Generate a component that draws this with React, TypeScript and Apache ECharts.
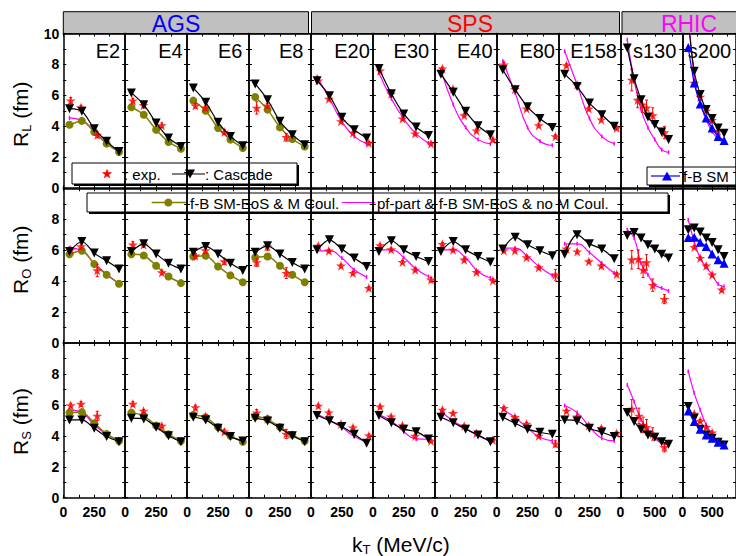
import { useEffect, useRef } from 'react';
import * as echarts from 'echarts';

const FONT = '"Liberation Sans", Arial, Helvetica, sans-serif';

// ---------- categories / labels ----------
const panelNames = ['E2', 'E4', 'E6', 'E8', 'E20', 'E30', 'E40', 'E80', 'E158', 's130', 's200'];
const regionTitles = ['AGS', 'SPS', 'RHIC'];
const regionColors = ['#0000ff', '#ff0000', '#ff00ff'];
const rowSubscripts = ['L', 'O', 'S'];
const kTModel = [50, 150, 250, 350, 450];
const kTRhic = [100, 200, 300, 400, 500, 600, 700];
const xLabelsModel = [0, 250];
const xLabelsRhic = [0, 500];
const yLabelValues = [0, 2, 4, 6, 8, 10];
const legendExp = ': exp.';
const legendCascade = ': Cascade';
const legendOlive = 'f-B SM-EoS & M Coul.';
const legendMagenta = 'pf-part & f-B SM-EoS & no M Coul.';
const legendBlue = 'f-B SM';

// ---------- R_L ----------
const cascadeRL = [
  [5.14, 4.97, 3.85, 3.03, 2.38],
  [6.16, 5.40, 4.22, 3.25, 2.70],
  [6.48, 5.55, 4.26, 3.35, 2.75],
  [6.74, 5.72, 4.32, 3.46, 2.81],
  [6.95, 5.98, 4.58, 3.78, 3.25],
  [7.73, 6.10, 4.80, 3.96, 3.40],
  [7.37, 6.20, 4.97, 4.04, 3.46],
  [7.66, 6.37, 5.26, 4.51, 3.93],
  [7.37, 6.57, 5.50, 4.75, 4.00],
  [9.07, 7.08, 5.72, 4.60, 4.11, 3.64, 3.14],
  [10.8, 7.56, 6.05, 5.08, 4.51, 3.89, 3.56],
];
const oliveRL = [
  [4.10, 4.35, 3.63, 2.88, 2.34],
  [5.23, 4.75, 3.78, 2.99, 2.55],
  [5.66, 5.01, 3.89, 3.14, 2.60],
  [5.90, 5.08, 3.93, 3.18, 2.70],
];
const magentaRL = [
  [4.54, 4.37, 3.70, 2.90, 2.38],
  null, null, null,
  [7.20, 5.79, 4.32, 3.35, 2.88],
  [7.45, 5.79, 4.48, 3.51, 2.92],
  [7.66, 5.40, 3.93, 3.14, 2.86],
  [8.20, 6.16, 3.93, 3.04, 2.77],
  [8.85, 6.70, 4.51, 3.35, 2.88],
  [9.60, 7.00, 5.08, 3.93, 3.14, 2.49, 2.32],
  [11.8, 7.20, 5.50, 4.45, 3.65, 3.20, 2.95],
];
const blueRL = [9.10, 6.80, 5.45, 4.54, 3.89, 3.35, 3.09];
const expRL = [
  [[60, 5.66, 0.2], [143, 5.21, 0.15], [274, 3.45, 0.2]],
  [[62, 5.66, 0.15], [148, 5.36, 0.15], [296, 4.06, 0.15]],
  [[67, 5.34, 0.15], [148, 5.20, 0.1], [301, 3.63, 0.15]],
  [[62, 5.19, 0.4], [148, 5.34, 0.15], [301, 3.29, 0.25]],
  [[60, 6.95, 0.1], [145, 5.77, 0.1], [243, 4.32, 0.1], [340, 3.58, 0.1], [468, 2.92, 0.1]],
  [[59, 7.60, 0.1], [148, 6.10, 0.1], [240, 4.50, 0.1], [342, 3.53, 0.1], [470, 2.88, 0.1]],
  [[62, 7.73, 0.1], [148, 6.42, 0.1], [238, 4.71, 0.1], [337, 3.72, 0.1], [470, 3.14, 0.1]],
  [[59, 7.99, 0.15], [148, 6.40, 0.1], [242, 5.14, 0.1], [340, 4.06, 0.1], [475, 3.35, 0.1]],
  [[64, 7.94, 0.1], [151, 6.69, 0.1], [245, 5.14, 0.1], [346, 4.43, 0.1], [470, 3.89, 0.1]],
  [[165, 7.00, 0.7], [250, 5.70, 0.5], [320, 5.40, 0.5], [380, 5.20, 0.5], [470, 4.70, 0.5], [640, 3.60, 0.4]],
  [[200, 6.80, 0.2], [300, 5.90, 0.2], [400, 5.00, 0.2], [500, 4.40, 0.2], [600, 3.70, 0.2]],
];

// ---------- R_O ----------
const cascadeRO = [
  [5.91, 6.56, 5.81, 5.31, 4.78],
  [5.91, 6.41, 5.76, 5.16, 4.78],
  [5.87, 6.24, 5.76, 5.16, 4.69],
  [5.87, 6.28, 5.76, 5.21, 4.78],
  [6.02, 6.67, 6.07, 5.49, 4.95],
  [5.91, 6.61, 6.02, 5.59, 5.27],
  [5.91, 6.56, 6.02, 5.59, 5.23],
  [6.07, 6.84, 6.35, 5.96, 5.64],
  [5.74, 7.00, 6.41, 6.07, 5.44],
  [6.95, 7.14, 6.78, 6.35, 6.07, 5.74, 5.49],
  [7.32, 7.43, 7.17, 6.78, 6.50, 6.02, 5.59],
];
const oliveRO = [
  [5.74, 5.96, 5.10, 4.41, 3.83],
  [5.74, 5.66, 4.99, 4.30, 3.87],
  [5.59, 5.64, 4.95, 4.37, 3.93],
  [5.53, 5.59, 4.99, 4.41, 3.93],
];
const magentaRO = [
  [6.15, 5.95, 5.15, 4.45, 3.85],
  null, null, null,
  [5.96, 5.96, 5.49, 4.73, 4.26],
  [6.02, 6.02, 5.53, 4.78, 4.30],
  [6.02, 6.02, 5.49, 4.62, 4.20],
  [6.13, 6.13, 5.59, 4.90, 4.36],
  [6.41, 6.41, 5.85, 5.16, 4.52],
  [7.32, 6.78, 5.16, 4.41, 3.76, 3.55, 3.37],
  [7.96, 6.56, 5.49, 4.90, 4.41, 3.81, 3.65],
];
const blueRO = [6.82, 6.84, 6.52, 6.24, 5.76, 5.38, 5.16];
const expRO = [
  [[60, 6.02, 0.15], [143, 6.24, 0.2], [274, 4.69, 0.4]],
  [[62, 6.35, 0.2], [148, 6.35, 0.15], [296, 4.56, 0.15]],
  [[67, 5.64, 0.15], [148, 5.98, 0.15], [301, 5.27, 0.2]],
  [[62, 5.21, 0.25], [148, 6.24, 0.25], [301, 4.52, 0.35]],
  [[60, 6.28, 0.1], [145, 5.96, 0.1], [243, 4.99, 0.1], [340, 4.52, 0.1], [468, 3.55, 0.1]],
  [[59, 6.30, 0.1], [148, 6.05, 0.1], [240, 5.23, 0.1], [342, 4.73, 0.1], [470, 4.09, 0.15]],
  [[62, 6.39, 0.1], [148, 6.02, 0.1], [238, 5.38, 0.1], [337, 4.58, 0.1], [470, 4.04, 0.1]],
  [[59, 5.98, 0.1], [148, 5.98, 0.1], [242, 5.53, 0.1], [340, 4.88, 0.1], [475, 4.41, 0.35]],
  [[64, 6.09, 0.1], [151, 5.91, 0.1], [245, 5.27, 0.1], [346, 4.99, 0.1], [470, 4.45, 0.1]],
  [[165, 5.38, 0.6], [260, 5.42, 0.6], [330, 4.73, 0.5], [380, 5.21, 0.5], [470, 3.74, 0.4], [640, 2.84, 0.3]],
  [[200, 6.20, 0.1], [300, 5.49, 0.1], [400, 4.99, 0.1], [500, 4.41, 0.1], [660, 3.44, 0.1]],
];

// ---------- R_S ----------
const cascadeRS = [
  [5.03, 5.03, 4.49, 3.95, 3.62],
  [5.14, 5.09, 4.56, 4.01, 3.62],
  [5.20, 5.03, 4.49, 3.95, 3.67],
  [5.14, 4.96, 4.49, 4.00, 3.62],
  [5.31, 4.98, 4.60, 4.10, 3.52],
  [5.31, 4.85, 4.43, 4.27, 3.80],
  [5.20, 4.85, 4.43, 4.06, 3.62],
  [5.20, 4.81, 4.43, 4.23, 4.10],
  [5.03, 4.96, 4.49, 4.23, 3.95],
  [5.50, 4.92, 4.43, 4.06, 3.91, 3.62, 3.46],
  [5.89, 5.14, 4.43, 4.06, 3.84, 3.58, 3.41],
];
const oliveRS = [
  [5.50, 5.53, 4.81, 4.12, 3.67],
  [5.50, 5.29, 4.66, 4.10, 3.67],
  [5.35, 5.20, 4.56, 4.00, 3.62],
  [5.25, 5.08, 4.56, 4.06, 3.67],
];
const magentaRS = [
  [5.68, 5.50, 4.71, 4.10, 3.67],
  null, null, null,
  [5.42, 4.98, 4.55, 3.95, 3.62],
  [5.35, 4.96, 4.27, 3.80, 3.78],
  [5.57, 4.96, 4.49, 4.01, 3.67],
  [5.68, 5.18, 4.49, 3.91, 3.67],
  [5.96, 5.50, 4.60, 3.84, 3.67],
  [7.29, 6.21, 5.03, 4.38, 3.84, 3.52, 3.41],
  [8.16, 6.76, 5.68, 4.71, 4.10, 3.62, 3.41],
];
const blueRS = [5.61, 4.92, 4.43, 4.06, 3.84, 3.58, 3.41];
const expRS = [
  [[60, 5.96, 0.15], [143, 6.06, 0.15], [274, 5.29, 0.3]],
  [[62, 6.06, 0.15], [148, 5.61, 0.1], [296, 4.64, 0.1]],
  [[67, 5.83, 0.15], [148, 5.25, 0.1], [301, 4.27, 0.15]],
  [[62, 5.50, 0.2], [148, 5.10, 0.1], [301, 4.12, 0.3]],
  [[60, 5.94, 0.1], [145, 5.50, 0.1], [243, 4.77, 0.1], [340, 4.53, 0.1], [468, 4.01, 0.1]],
  [[59, 5.89, 0.1], [148, 5.24, 0.1], [240, 4.66, 0.1], [342, 3.99, 0.1], [470, 3.67, 0.1]],
  [[62, 5.68, 0.1], [148, 5.46, 0.1], [238, 4.64, 0.1], [337, 4.17, 0.1], [470, 3.73, 0.1]],
  [[59, 5.79, 0.1], [148, 5.20, 0.1], [242, 4.77, 0.1], [340, 3.99, 0.1], [475, 3.48, 0.2]],
  [[64, 5.61, 0.1], [151, 5.24, 0.1], [245, 4.66, 0.1], [346, 4.49, 0.1], [470, 4.17, 0.1]],
  [[165, 5.74, 0.6], [270, 5.29, 0.5], [330, 4.71, 0.5], [380, 4.56, 0.5], [470, 4.12, 0.4], [640, 3.26, 0.3]],
  [[200, 5.42, 0.1], [300, 4.96, 0.1], [400, 4.56, 0.1], [500, 4.21, 0.1], [610, 3.62, 0.1]],
];

// ---------- layout / style ----------
const PL = 63.3;
const PW = 61.9;
const ROW_TOP = [33.5, 188.3, 343.0];
const PH = 154.7;
const RED = '#ff0000';
const OLIVE = '#808000';
const MAGENTA = '#ff00ff';
const BLUE = '#0000ff';
const STAR = 'path://M50,0 L61.8,35.1 L98.9,35.1 L68.9,56.8 L79.4,91.9 L50,70.2 L20.6,91.9 L31.1,56.8 L1.1,35.1 L38.2,35.1 Z';
const labelInset = [5, 4.5, 6.5, 7.5, 3, 5.5, 4, 3.5, 3.5, 6, 13];
const regionBoxes = [[63.3, 245.2], [311.5, 308], [622, 140]];
const regionTitleX = [176, 470, 689];
const yTitleStart = [147, 294, 455];

function starPoints(cx: number, cy: number, r: number) {
  const pts: number[][] = [];
  for (let k = 0; k < 10; k++) {
    const rr = k % 2 === 0 ? r : r * 0.4;
    const a = -Math.PI / 2 + (k * Math.PI) / 5;
    pts.push([cx + rr * Math.cos(a), cy + rr * Math.sin(a)]);
  }
  return pts;
}

function legendBox(x: number, y: number, w: number, h: number) {
  return [
    { type: 'rect', shape: { x: x + 2, y: y + h, width: w, height: 2 }, style: { fill: '#000' } },
    { type: 'rect', shape: { x: x + w, y: y + 2, width: 2, height: h }, style: { fill: '#000' } },
    { type: 'rect', shape: { x, y, width: w, height: h }, style: { fill: 'none', stroke: '#000', lineWidth: 1 } },
  ];
}

function txt(x: number, y: number, text: string, size: number, fill = '#000', align = 'left') {
  return {
    type: 'text', x, y,
    style: { text, fontSize: size, fontFamily: FONT, fill, align, verticalAlign: 'middle' },
  };
}

function buildOption() {
  const rows = [
    { cascade: cascadeRL, olive: oliveRL, magenta: magentaRL, blue: blueRL, exp: expRL },
    { cascade: cascadeRO, olive: oliveRO, magenta: magentaRO, blue: blueRO, exp: expRO },
    { cascade: cascadeRS, olive: oliveRS, magenta: magentaRS, blue: blueRS, exp: expRS },
  ];
  const grid: any[] = [];
  const xAxis: any[] = [];
  const yAxis: any[] = [];
  const series: any[] = [];
  const axisLine = { show: true, onZero: false, lineStyle: { color: '#000', width: 1.5 } };
  const axisTick = { show: true, inside: true, length: 3, lineStyle: { color: '#000', width: 1 } };
  const labelStyle = { color: '#000', fontSize: 14, fontWeight: 'bold', fontFamily: FONT };

  rows.forEach((row, r) => {
    panelNames.forEach((_, i) => {
      const g = grid.length;
      const rhic = i >= 9;
      grid.push({ left: PL + i * PW, top: ROW_TOP[r], width: PW, height: PH, show: false });
      const xShown = rhic ? xLabelsRhic : xLabelsModel;
      const xBase = {
        gridIndex: g, type: 'value', min: 0, max: rhic ? 900 : 500, interval: rhic ? 250 : 125,
        axisLine, axisTick, splitLine: { show: false },
      };
      xAxis.push({
        ...xBase, position: 'bottom',
        axisLabel: {
          show: r === 2, ...labelStyle, margin: 7, showMaxLabel: false,
          formatter: (v: number) => (xShown.includes(v) ? String(v) : ''),
        },
      });
      xAxis.push({ ...xBase, position: 'top', axisLabel: { show: false } });
      const yBase = {
        gridIndex: g, type: 'value', min: 0, max: 10, interval: 1,
        axisLine, axisTick, splitLine: { show: false },
      };
      yAxis.push({
        ...yBase, position: 'left',
        axisLabel: {
          show: i === 0, ...labelStyle, margin: 4,
          formatter: (v: number) => (yLabelValues.includes(v) && (r === 0 || v < 10) ? String(v) : ''),
        },
      });
      yAxis.push({ ...yBase, position: 'right', axisLabel: { show: false } });

      const xi = 2 * g;
      const yi = 2 * g;
      const ks = rhic ? kTRhic : kTModel;
      const zip = (vals: number[]) => ks.map((k, j) => [k, vals[j]]);
      const common = { xAxisIndex: xi, yAxisIndex: yi, silent: true, clip: true };

      const mag = row.magenta[i];
      if (mag) {
        series.push({
          ...common, type: 'line', smooth: 0.5, data: zip(mag),
          lineStyle: { color: MAGENTA, width: 1.2 },
          itemStyle: { color: MAGENTA },
          symbol: 'rect', symbolSize: [1.5, 4], z: 2,
        });
      }
      if (i < 4) {
        series.push({
          ...common, type: 'line', smooth: 0.3, data: zip(row.olive[i]),
          lineStyle: { color: OLIVE, width: 1.5 },
          itemStyle: { color: OLIVE },
          symbol: 'circle', symbolSize: 8, z: 3,
        });
      }
      const exp = row.exp[i];
      series.push({
        ...common, type: 'custom', data: exp, encode: { x: 0, y: 1 }, z: 4,
        renderItem: (params: any, api: any) => {
          const x = api.value(0);
          const y = api.value(1);
          const e = api.value(2);
          const p1 = api.coord([x, y - e]);
          const p2 = api.coord([x, y + e]);
          const st = { stroke: RED, lineWidth: 1 };
          return {
            type: 'group',
            children: [
              { type: 'line', shape: { x1: p1[0], y1: p1[1], x2: p2[0], y2: p2[1] }, style: st },
              { type: 'line', shape: { x1: p1[0] - 1.5, y1: p1[1], x2: p1[0] + 1.5, y2: p1[1] }, style: st },
              { type: 'line', shape: { x1: p2[0] - 1.5, y1: p2[1], x2: p2[0] + 1.5, y2: p2[1] }, style: st },
            ],
          };
        },
      });
      series.push({
        ...common, type: 'scatter', data: exp.map((d) => [d[0], d[1]]),
        symbol: STAR, symbolSize: 10, itemStyle: { color: RED }, z: 5,
      });
      series.push({
        ...common, type: 'line', smooth: 0.3, data: zip(row.cascade[i]),
        lineStyle: { color: '#000', width: 1.2 },
        itemStyle: { color: '#000' },
        symbol: 'triangle', symbolRotate: 180, symbolSize: 9, z: 6,
      });
      if (i === 10) {
        series.push({
          ...common, type: 'line', smooth: 0.3, data: zip(row.blue),
          lineStyle: { color: BLUE, width: 1.2 },
          itemStyle: { color: BLUE },
          symbol: 'triangle', symbolSize: 9, z: 7,
        });
      }
    });
  });

  const graphic: any[] = [];
  // region header boxes
  regionTitles.forEach((t, k) => {
    const [bx, bw] = regionBoxes[k];
    graphic.push({
      type: 'rect', shape: { x: bx, y: 11.7, width: bw, height: 22 },
      style: { fill: '#c0c0c0', stroke: '#000', lineWidth: 1 },
    });
    graphic.push(txt(regionTitleX[k], 23.5, t, 23, regionColors[k], 'center'));
  });
  // panel labels
  panelNames.forEach((n, i) => {
    graphic.push(txt(PL + (i + 1) * PW - labelInset[i], 50.5, n, 20, '#000', 'right'));
  });
  // y titles
  rowSubscripts.forEach((s, r) => {
    const subW = s === 'O' ? 10.1 : s === 'S' ? 8.7 : 7.2;
    graphic.push({
      type: 'group', x: 20, y: yTitleStart[r], rotation: Math.PI / 2,
      children: [
        txt(0, 0, 'R', 21),
        txt(15.2, 6, s, 13),
        txt(15.2 + subW, 0, ' (fm)', 21),
      ],
    });
  });
  // x title
  graphic.push(txt(352, 544, 'k', 21));
  graphic.push(txt(362.5, 549.5, 'T', 13));
  graphic.push(txt(370.4, 544, ' (MeV/c)', 21));

  // legend 1
  graphic.push(...legendBox(72, 163, 225, 21));
  graphic.push({ type: 'polygon', shape: { points: starPoints(107, 174, 5.5) }, style: { fill: RED } });
  graphic.push(txt(124, 174, legendExp, 15));
  graphic.push({ type: 'line', shape: { x1: 172, y1: 174, x2: 205, y2: 174 }, style: { stroke: '#000', lineWidth: 1.2 } });
  graphic.push({ type: 'polygon', shape: { points: [[185, 169.5], [195, 169.5], [190, 178.5]] }, style: { fill: '#000' } });
  graphic.push(txt(205, 174, legendCascade, 15));

  // legend 2
  graphic.push(...legendBox(87, 193, 581, 19));
  graphic.push({ type: 'line', shape: { x1: 151.7, y1: 202.5, x2: 186.7, y2: 202.5 }, style: { stroke: OLIVE, lineWidth: 1.5 } });
  graphic.push({ type: 'circle', shape: { cx: 168.3, cy: 202.5, r: 4 }, style: { fill: OLIVE } });
  graphic.push(txt(190, 203, legendOlive, 15));
  graphic.push({ type: 'line', shape: { x1: 341.7, y1: 202.5, x2: 375, y2: 202.5 }, style: { stroke: MAGENTA, lineWidth: 1.2 } });
  graphic.push(txt(377, 203, legendMagenta, 15));

  // legend 3 (cut off at the right edge in the original)
  graphic.push(...legendBox(647, 167, 130, 18));
  graphic.push({ type: 'line', shape: { x1: 651, y1: 176, x2: 680, y2: 176 }, style: { stroke: BLUE, lineWidth: 1.2 } });
  graphic.push({ type: 'polygon', shape: { points: [[662, 180.5], [672, 180.5], [667, 171.5]] }, style: { fill: BLUE } });
  graphic.push(txt(683, 176, legendBlue, 15));

  return { animation: false, backgroundColor: '#fff', grid, xAxis, yAxis, series, graphic };
}

export default function App() {
  const ref = useRef<HTMLDivElement>(null);
  useEffect(() => {
    const chart = echarts.init(ref.current!, null, { renderer: 'svg' });
    chart.setOption(buildOption() as any);
    return () => chart.dispose();
  }, []);
  return (
    <div
      ref={ref}
      style={{ position: 'absolute', left: 0, top: 0, width: 736, height: 556, background: '#fff' }}
    />
  );
}
